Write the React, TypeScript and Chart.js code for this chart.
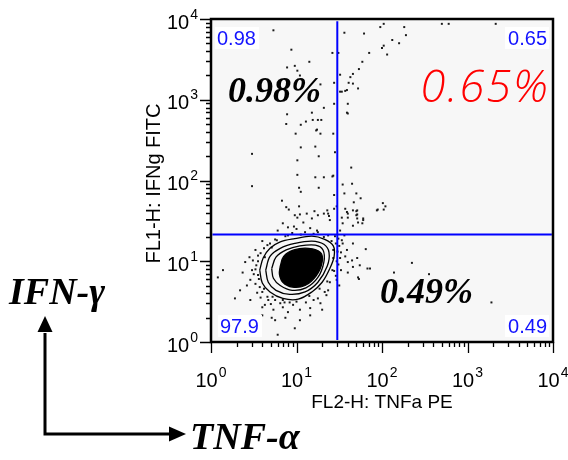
import React, { useEffect, useRef } from 'react';
import { Chart, registerables } from 'chart.js';

Chart.register(...registerables);

// ---- axis / text data ----
const decades = [0, 1, 2, 3, 4];
const axisMin = 1;
const axisMax = 10000;
const xTitle = 'FL2-H: TNFa PE';
const yTitle = 'FL1-H: IFNg FITC';
const gateX = 30;
const gateY = 21.5;
const cornerLabels = ['0.98', '0.65', '97.9', '0.49'];
const bigLabels = ['0.98%', '0.65%', '0.49%'];
const sideLabelY = 'IFN-γ';
const sideLabelX = 'TNF-α';

// ---- events, stored as [log10(TNFa), log10(IFNg)] ----
const dotsUpper: [number, number][] = [
  [0.73, 3.86], [0.94, 3.62], [0.89, 3.40], [0.98, 3.42], [1.01, 3.36], [1.15, 3.47], [1.04, 3.30], [1.06, 3.25],
  [1.28, 3.19], [1.32, 2.90], [0.89, 2.82], [1.18, 2.84], [1.25, 2.75], [1.42, 3.58], [1.49, 3.58], [1.44, 3.21],
  [1.44, 2.95], [1.56, 3.83], [1.79, 3.82], [1.85, 3.58], [1.77, 3.47], [1.73, 3.38], [1.66, 3.32], [1.63, 3.28],
  [1.51, 3.31], [1.61, 3.21], [1.66, 3.20], [1.51, 3.10], [1.57, 3.11], [1.59, 3.12], [1.72, 3.14], [1.60, 2.95],
  [1.59, 2.84], [1.98, 3.90], [2.02, 3.94], [2.26, 3.90], [2.28, 3.80], [2.12, 3.74], [2.20, 3.70], [2.02, 3.67],
  [2.00, 3.64], [2.06, 3.56], [2.70, 3.94], [2.78, 3.94], [3.33, 3.94], [1.60, 2.83], [1.53, 3.10],
];

const dotsMid: [number, number][] = [
  [1.43, 2.58], [1.45, 2.35], [1.43, 2.06], [1.44, 1.82], [1.64, 2.16], [1.54, 1.95], [1.65, 1.96], [1.56, 1.84],
  [1.70, 1.84], [1.75, 1.78], [1.67, 1.73], [1.71, 1.63], [2.01, 1.72], [2.04, 1.68], [1.95, 1.64], [2.02, 1.64],
  [1.78, 1.51], [1.57, 1.65], [1.60, 1.59], [0.88, 2.70], [1.05, 2.69], [1.11, 2.73], [1.19, 2.75], [1.29, 2.75],
  [0.99, 2.58], [1.24, 2.63], [1.23, 2.62], [1.28, 2.58], [0.48, 2.33], [1.05, 2.41], [1.22, 2.42], [1.26, 2.30],
  [1.01, 2.25], [1.01, 2.07], [1.22, 2.04], [1.32, 2.04], [1.42, 2.05], [0.48, 1.93], [1.03, 1.91], [1.05, 1.86],
  [1.26, 1.91], [0.83, 1.75], [0.88, 1.67], [0.91, 1.64], [1.03, 1.68], [1.12, 1.59], [1.21, 1.62], [0.98, 1.57],
  [1.04, 1.58], [1.25, 1.57], [1.32, 1.59], [1.37, 1.59], [1.38, 1.56], [1.44, 1.65], [1.47, 1.68], [1.53, 1.54],
  [1.59, 1.61], [1.70, 1.62], [1.71, 1.58], [1.94, 1.63], [1.78, 1.53],
];

const dotsGate: [number, number][] = [
  [0.97, 1.43], [0.90, 1.42], [1.08, 1.48], [1.18, 1.53], [1.39, 1.51], [1.36, 1.63], [1.66, 1.63], [1.71, 1.53],
  [1.77, 1.47], [1.54, 1.47], [0.84, 1.47], [1.24, 1.38], [1.51, 1.38], [1.16, 1.41], [0.78, 1.38], [1.01, 1.54],
  [1.70, 1.57], [1.72, 1.48], [1.66, 1.44], [1.60, 1.54],
];

const dotsRight: [number, number][] = [
  [1.54, 1.22], [1.59, 1.14], [1.60, 0.99], [1.51, 1.04], [1.71, 1.04], [1.60, 0.86], [1.72, 0.80], [1.83, 0.91],
  [1.86, 0.91], [1.53, 1.26], [1.66, 1.22], [1.65, 1.01], [1.66, 0.93], [1.74, 0.95], [1.81, 1.15], [1.73, 0.78],
  [2.14, 0.86], [2.35, 0.98], [2.55, 0.84], [3.28, 0.49], [1.49, 1.28], [1.50, 1.19], [1.52, 1.11], [1.49, 0.96],
  [1.52, 0.89], [1.46, 0.82], [1.56, 1.32], [1.45, 1.31], [1.57, 1.06],
];

const dotsHalo: [number, number][] = [
  [0.08, 0.80], [0.14, 0.89], [0.28, 0.54], [0.37, 0.86], [0.46, 0.77], [0.49, 1.01], [0.52, 1.14], [0.42, 0.70],
  [0.54, 0.61], [0.60, 0.43], [0.73, 0.40], [0.71, 0.30], [0.78, 0.09], [0.98, 0.17], [0.84, 0.52], [1.04, 0.40],
  [1.16, 0.42], [1.28, 0.48], [1.33, 0.62], [1.39, 0.74], [1.42, 0.89], [1.43, 1.04], [1.43, 1.14], [0.77, 1.26],
  [0.71, 1.17], [0.63, 1.05], [0.92, 0.49], [0.84, 0.43], [0.75, 0.52], [0.66, 0.56], [0.57, 0.68], [0.55, 0.83],
  [0.53, 0.95], [0.55, 1.07], [0.62, 1.16], [0.69, 1.22], [0.87, 1.31], [0.95, 1.35], [1.10, 1.36], [1.25, 1.36],
  [1.37, 1.32], [1.46, 1.22], [1.47, 0.77], [1.37, 0.64], [1.25, 0.54], [1.11, 0.49], [0.96, 0.46], [0.81, 0.48],
  [0.67, 0.52], [0.60, 0.62], [0.52, 0.72], [0.48, 0.89], [0.63, 0.46], [0.90, 0.37], [1.16, 0.33], [0.75, 0.27],
  [1.04, 0.27], [0.40, 0.99], [0.34, 0.64], [0.60, 0.33], [0.87, 0.30], [1.30, 0.40], [0.46, 0.52],
];

const dotsRing: [number, number][] = [
  [0.52, 0.90], [0.55, 1.00], [0.58, 1.10], [0.66, 1.20], [0.75, 1.27], [0.90, 1.32], [1.05, 1.33], [1.20, 1.34],
  [1.32, 1.30], [1.41, 1.25], [1.48, 1.12], [1.47, 1.00], [1.44, 0.88], [1.36, 0.75], [1.27, 0.66], [1.15, 0.57],
  [1.00, 0.50], [0.86, 0.49], [0.72, 0.56], [0.62, 0.66], [0.56, 0.78], [0.50, 0.84], [0.58, 0.55], [0.70, 0.47],
  [1.20, 0.52], [1.35, 0.58], [1.50, 0.70], [0.45, 1.05], [0.60, 1.25], [1.00, 1.40],
];

// ---- contour levels, [log10 x, log10 y] ----
const contourOuter: [number, number][] = [
  [0.57, 0.89], [0.61, 1.04], [0.69, 1.16], [0.81, 1.24], [0.98, 1.28], [1.18, 1.31], [1.33, 1.27], [1.43, 1.19],
  [1.44, 1.06], [1.39, 0.91], [1.30, 0.74], [1.18, 0.62], [1.02, 0.53], [0.84, 0.54], [0.69, 0.62], [0.60, 0.73],
];
const contourMid: [number, number][] = [
  [0.64, 0.89], [0.69, 1.06], [0.81, 1.16], [0.98, 1.22], [1.18, 1.25], [1.32, 1.21], [1.38, 1.11], [1.36, 0.94],
  [1.25, 0.74], [1.10, 0.62], [0.92, 0.59], [0.76, 0.64], [0.67, 0.74],
];
const contourInner: [number, number][] = [
  [0.71, 0.91], [0.76, 1.05], [0.88, 1.14], [1.04, 1.19], [1.22, 1.20], [1.31, 1.14], [1.32, 0.99], [1.25, 0.80],
  [1.11, 0.67], [0.95, 0.64], [0.81, 0.70], [0.73, 0.79],
];
const contourCore: [number, number][] = [
  [0.81, 0.94], [0.85, 1.06], [0.97, 1.14], [1.14, 1.16], [1.28, 1.11], [1.30, 0.99], [1.23, 0.82], [1.10, 0.70],
  [0.95, 0.68], [0.84, 0.74], [0.80, 0.84],
];

const toPts = (arr: [number, number][]) => arr.map(([lx, ly]) => ({ x: Math.pow(10, lx), y: Math.pow(10, ly) }));
const closed = (arr: [number, number][]) => toPts([...arr, arr[0]]);

const SANS = '"Liberation Sans", Arial, sans-serif';
const SERIF = '"Liberation Serif", "Times New Roman", serif';

const decorPlugin = {
  id: 'decor',
  beforeDraw(chart: any) {
    const { ctx, chartArea: a } = chart;
    ctx.save();
    ctx.fillStyle = '#f7f7f7';
    ctx.fillRect(a.left, a.top, a.right - a.left, a.bottom - a.top);
    ctx.restore();
  },
  afterDraw(chart: any) {
    const { ctx, chartArea: a, scales } = chart;
    const xs = scales.x;
    const ys = scales.y;
    ctx.save();

    // quadrant percentages
    ctx.textBaseline = 'alphabetic';
    ctx.fillStyle = '#000';
    ctx.font = `italic bold 36px ${SERIF}`;
    ctx.textAlign = 'left';
    ctx.fillText(bigLabels[0], a.left + 17, a.top + 83);
    ctx.fillText(bigLabels[2], a.left + 169, a.top + 284);
    ctx.save();
    ctx.fillStyle = '#ff0000';
    ctx.font = `italic 300 45px "Open Sans", ${SANS}`;
    (ctx as any).letterSpacing = '2px';
    ctx.textAlign = 'right';
    ctx.fillText(bigLabels[1], a.right - 3, a.top + 83);
    ctx.restore();

    // corner statistics
    ctx.font = `20px ${SANS}`;
    const boxes = [
      { x: a.left + 4, y: a.top + 8, align: 'left' },
      { x: a.right - 48, y: a.top + 8, align: 'right' },
      { x: a.left + 7, y: a.bottom - 27, align: 'left' },
      { x: a.right - 48, y: a.bottom - 27, align: 'right' },
    ];
    boxes.forEach((b, i) => {
      ctx.fillStyle = '#ffffff';
      ctx.fillRect(b.x, b.y, 44, 22);
      ctx.fillStyle = '#1414ff';
      ctx.textAlign = b.align;
      const tx = b.align === 'left' ? b.x + 2 : b.x + 42;
      ctx.fillText(cornerLabels[i], tx, b.y + 18);
    });

    // frame
    ctx.strokeStyle = '#000';
    ctx.lineWidth = 2.5;
    ctx.strokeRect(a.left, a.top, a.right - a.left, a.bottom - a.top);

    // ticks
    ctx.lineWidth = 1.3;
    ctx.beginPath();
    decades.forEach((d) => {
      for (let m = 1; m <= 9; m++) {
        if (d === 4 && m > 1) break;
        const v = m * Math.pow(10, d);
        const len = m === 1 ? 11 : 5;
        const px = Math.round(xs.getPixelForValue(v)) + 0.5;
        ctx.moveTo(px, a.bottom);
        ctx.lineTo(px, a.bottom + len);
        const py = Math.round(ys.getPixelForValue(v)) + 0.5;
        ctx.moveTo(a.left, py);
        ctx.lineTo(a.left - len, py);
      }
    });
    ctx.stroke();

    // tick labels 10^n
    ctx.fillStyle = '#000';
    ctx.textAlign = 'left';
    decades.forEach((d) => {
      const v = Math.pow(10, d);
      const exp = String(d);
      ctx.font = `20px ${SANS}`;
      const w10 = ctx.measureText('10').width;
      ctx.font = `14px ${SANS}`;
      const we = ctx.measureText(exp).width;
      const total = w10 + 1 + we;
      const px = xs.getPixelForValue(v);
      const sx = px - total / 2;
      ctx.font = `20px ${SANS}`;
      ctx.fillText('10', sx, a.bottom + 45);
      ctx.font = `14px ${SANS}`;
      ctx.fillText(exp, sx + w10 + 1, a.bottom + 35);
      const py = ys.getPixelForValue(v);
      const sy = a.left - 13 - total;
      ctx.font = `20px ${SANS}`;
      ctx.fillText('10', sy, py + 9.5);
      ctx.font = `14px ${SANS}`;
      ctx.fillText(exp, sy + w10 + 1, py - 0.5);
    });

    // axis titles
    ctx.font = `19px ${SANS}`;
    ctx.textAlign = 'center';
    ctx.fillText(xTitle, (a.left + a.right) / 2, a.bottom + 66);
    ctx.save();
    ctx.translate(a.left - 51, (a.top + a.bottom) / 2 + 3);
    ctx.rotate(-Math.PI / 2);
    ctx.font = `20px ${SANS}`;
    ctx.fillText(yTitle, 0, 0);
    ctx.restore();

    // side arrows
    ctx.strokeStyle = '#000';
    ctx.lineWidth = 3;
    ctx.beginPath();
    ctx.moveTo(45, 333);
    ctx.lineTo(45, 434);
    ctx.lineTo(170, 434);
    ctx.stroke();
    ctx.fillStyle = '#000';
    ctx.beginPath();
    ctx.moveTo(45, 316);
    ctx.lineTo(37.5, 332);
    ctx.lineTo(52.5, 332);
    ctx.closePath();
    ctx.fill();
    ctx.beginPath();
    ctx.moveTo(186, 434);
    ctx.lineTo(169, 426.5);
    ctx.lineTo(169, 441.5);
    ctx.closePath();
    ctx.fill();

    ctx.font = `italic bold 38px ${SERIF}`;
    ctx.textAlign = 'left';
    ctx.fillText(sideLabelY, 9, 304);
    ctx.fillText(sideLabelX, 190, 449);

    ctx.restore();
  },
};

export default function App() {
  const ref = useRef<HTMLCanvasElement | null>(null);

  useEffect(() => {
    if (!ref.current) return;
    const contourStyle = {
      showLine: true,
      pointRadius: 0,
      borderColor: '#000',
      borderWidth: 1.3,
      tension: 0.35,
      fill: false,
    };
    const chart = new Chart(ref.current, {
      type: 'scatter',
      data: {
        datasets: [
          {
            label: 'gateV',
            data: [{ x: gateX, y: 1.06 }, { x: gateX, y: 9400 }],
            showLine: true,
            pointRadius: 0,
            borderColor: '#0000ff',
            borderWidth: 2,
          },
          {
            label: 'gateH',
            data: [{ x: 1.04, y: gateY }, { x: 9700, y: gateY }],
            showLine: true,
            pointRadius: 0,
            borderColor: '#0000ff',
            borderWidth: 2,
          },
          {
            label: 'core',
            data: closed(contourCore),
            showLine: true,
            pointRadius: 0,
            borderColor: '#000',
            backgroundColor: '#000',
            borderWidth: 1.3,
            tension: 0.35,
            fill: 'shape',
          } as any,
          { label: 'inner', data: closed(contourInner), ...contourStyle },
          { label: 'mid', data: closed(contourMid), ...contourStyle },
          { label: 'outer', data: closed(contourOuter), ...contourStyle },
          {
            label: 'events',
            data: toPts([...dotsUpper, ...dotsMid, ...dotsGate, ...dotsRight, ...dotsHalo, ...dotsRing]),
            pointStyle: 'rect',
            pointRadius: 1.4,
            backgroundColor: '#1a1a1a',
            borderWidth: 0,
          },
        ],
      },
      options: {
        responsive: false,
        animation: false,
        events: [],
        layout: { padding: { left: 211, top: 19, right: 15, bottom: 118 } },
        scales: {
          x: { type: 'logarithmic', min: axisMin, max: axisMax, display: false },
          y: { type: 'logarithmic', min: axisMin, max: axisMax, display: false },
        },
        plugins: {
          legend: { display: false },
          tooltip: { enabled: false },
        },
      },
      plugins: [decorPlugin],
    });
    return () => chart.destroy();
  }, []);

  return (
    <div style={{ position: 'absolute', left: 0, top: 0, width: 568, height: 460, background: '#fff' }}>
      <canvas ref={ref} width={568} height={460} style={{ width: 568, height: 460, display: 'block' }} />
    </div>
  );
}
